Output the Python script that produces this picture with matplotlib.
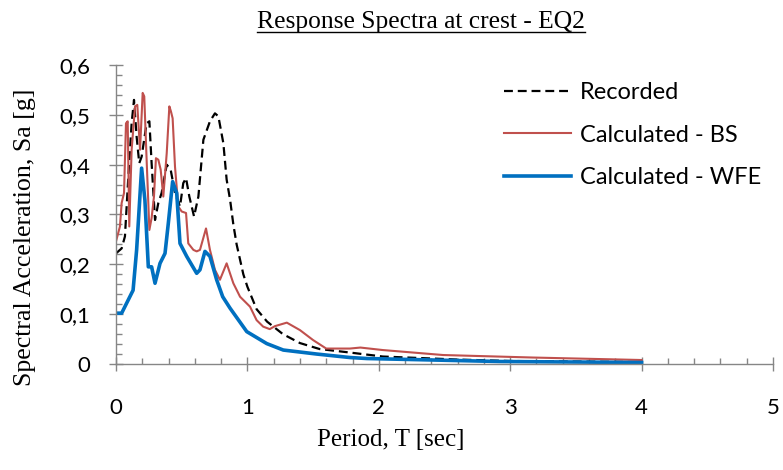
import matplotlib.pyplot as plt
from matplotlib.lines import Line2D
from matplotlib.ticker import MultipleLocator, FuncFormatter

# ---------------------------
# Data
# ---------------------------
t_rec = [0.0, 0.043, 0.068, 0.094, 0.119, 0.137, 0.157, 0.177, 0.195, 0.233,
         0.254, 0.271, 0.297, 0.322, 0.347, 0.386, 0.416, 0.449, 0.487, 0.512,
         0.533, 0.558, 0.594, 0.627, 0.665, 0.715, 0.753, 0.779, 0.817, 0.842,
         0.868, 0.893, 0.918, 0.969, 1.0, 1.07, 1.15, 1.27, 1.40, 1.55,
         1.65, 1.78, 2.03, 2.59, 3.0, 4.0]
sa_rec = [0.222, 0.232, 0.256, 0.376, 0.483, 0.530, 0.456, 0.403, 0.416, 0.483,
          0.487, 0.403, 0.289, 0.323, 0.343, 0.400, 0.390, 0.343, 0.316, 0.363,
          0.373, 0.336, 0.296, 0.336, 0.450, 0.487, 0.503, 0.497, 0.443, 0.370,
          0.330, 0.280, 0.240, 0.180, 0.155, 0.110, 0.085, 0.060, 0.042, 0.030,
          0.027, 0.023, 0.015, 0.009, 0.006, 0.004]

t_bs = [0.0, 0.03, 0.043, 0.061, 0.076, 0.089, 0.101, 0.119, 0.145, 0.162,
        0.183, 0.203, 0.215, 0.233, 0.254, 0.271, 0.289, 0.304, 0.322, 0.340,
        0.360, 0.386, 0.406, 0.418, 0.431, 0.449, 0.474, 0.500, 0.533, 0.550,
        0.589, 0.614, 0.639, 0.685, 0.715, 0.753, 0.791, 0.842, 0.893, 0.944,
        1.02, 1.07, 1.12, 1.17, 1.21, 1.30, 1.40, 1.50, 1.60, 1.78,
        1.86, 2.03, 2.49, 3.17, 4.0]
sa_bs = [0.246, 0.276, 0.323, 0.343, 0.483, 0.487, 0.276, 0.430, 0.517, 0.520,
         0.430, 0.544, 0.537, 0.410, 0.269, 0.293, 0.336, 0.413, 0.410, 0.390,
         0.336, 0.423, 0.517, 0.507, 0.493, 0.396, 0.316, 0.306, 0.303, 0.242,
         0.229, 0.226, 0.229, 0.272, 0.229, 0.189, 0.169, 0.202, 0.162, 0.135,
         0.115, 0.088, 0.075, 0.070, 0.076, 0.083, 0.068, 0.048, 0.031, 0.031,
         0.033, 0.028, 0.018, 0.013, 0.008]

t_wfe = [0.0, 0.043, 0.13, 0.157, 0.195, 0.22, 0.246, 0.271, 0.297, 0.335,
         0.373, 0.398, 0.431, 0.462, 0.487, 0.538, 0.614, 0.639, 0.677, 0.715,
         0.766, 0.812, 0.868, 0.995, 1.147, 1.273, 1.40, 1.527, 1.78, 1.91,
         2.92, 4.0]
sa_wfe = [0.102, 0.102, 0.148, 0.229, 0.393, 0.329, 0.195, 0.195, 0.162, 0.202,
          0.222, 0.282, 0.366, 0.343, 0.242, 0.216, 0.182, 0.189, 0.226, 0.216,
          0.169, 0.135, 0.112, 0.065, 0.041, 0.028, 0.024, 0.020, 0.013, 0.011,
          0.005, 0.003]

# ---------------------------
# Style
# ---------------------------
SANS = "Lato"
SERIF = "Liberation Serif"
AXIS_GREY = "#868686"

fig = plt.figure(figsize=(7.83, 4.70), dpi=100)
ax = fig.add_axes([116 / 783, 1 - 364 / 470, (773 - 116) / 783, (364 - 65) / 470])

ax.plot(t_rec, sa_rec, color="black", linestyle=(0, (4.0, 2.2)), linewidth=1.6,
        label="Recorded")
ax.plot(t_bs, sa_bs, color="#C0504D", linewidth=1.5, label="Calculated - BS")
ax.plot(t_wfe, sa_wfe, color="#0070C0", linewidth=2.6, label="Calculated - WFE")

ax.set_xlim(0, 5)
ax.set_ylim(0, 0.6)
ax.xaxis.set_major_locator(MultipleLocator(1))
ax.xaxis.set_minor_locator(MultipleLocator(0.2))
ax.yaxis.set_major_locator(MultipleLocator(0.1))
ax.yaxis.set_minor_locator(MultipleLocator(0.02))
ax.yaxis.set_major_formatter(FuncFormatter(
    lambda v, p: "0" if abs(v) < 1e-9 else f"{v:.1f}".replace(".", ",")))

for side in ("top", "right"):
    ax.spines[side].set_visible(False)
for side in ("left", "bottom"):
    ax.spines[side].set_color(AXIS_GREY)
    ax.spines[side].set_linewidth(1.0)

ax.tick_params(axis="both", which="major", direction="inout", length=10.5,
               width=1.0, color=AXIS_GREY, labelsize=16)
ax.tick_params(axis="both", which="minor", direction="in", length=4.5,
               width=1.0, color=AXIS_GREY)
ax.tick_params(axis="x", which="major", pad=19)
ax.tick_params(axis="y", which="major", pad=13)
for lab in ax.get_xticklabels() + ax.get_yticklabels():
    lab.set_fontfamily(SANS)

# Titles / labels as figure text, serif like the original
title = fig.text(0.538, 1 - 22 / 470, "Response Spectra at crest - EQ2",
                 ha="center", va="center", fontsize=18.4, family=SERIF)
fig.text(391 / 783, 1 - 440 / 470, "Period, T [sec]", ha="center", va="center",
         fontsize=18, family=SERIF)
fig.text(25 / 783, 1 - 237 / 470, "Spectral Acceleration, Sa [g]", ha="center",
         va="center", rotation=90, fontsize=18.6, family=SERIF)

leg = ax.legend(loc="upper left", bbox_to_anchor=(495 / 783, 1 - 73 / 470),
                bbox_transform=fig.transFigure, frameon=False,
                prop={"family": SANS, "size": 17}, handlelength=2.8,
                handletextpad=0.4, labelspacing=0.9, borderaxespad=0)

# underline the title
fig.canvas.draw()
bb = title.get_window_extent().transformed(fig.transFigure.inverted())
fig.add_artist(Line2D([bb.x0, bb.x1], [bb.y0 + 0.002, bb.y0 + 0.002],
                      transform=fig.transFigure, color="black", linewidth=1.0))

plt.savefig("out.png", dpi=100, facecolor="white")
